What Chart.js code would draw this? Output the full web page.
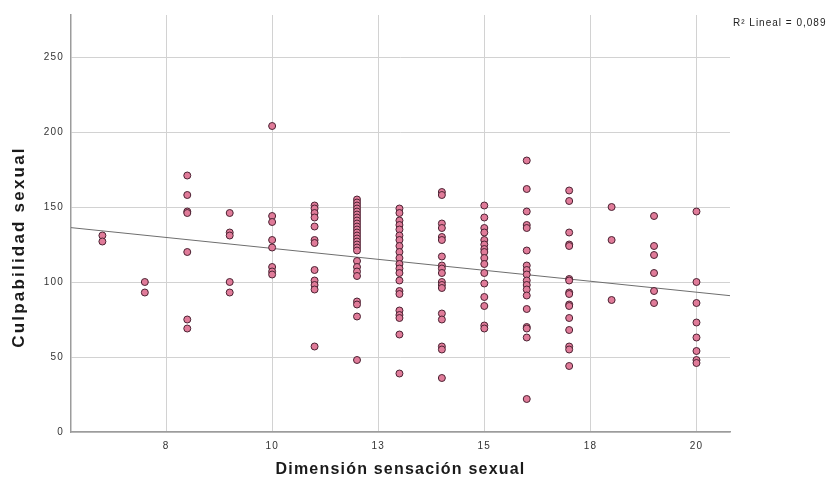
<!DOCTYPE html>
<html>
<head>
<meta charset="utf-8">
<script src="https://cdn.jsdelivr.net/npm/chart.js@4"></script>
<style>
  html, body { margin: 0; padding: 0; background: #fff; }
  canvas { display: block; }
</style>
</head>
<body>
<canvas id="grafico" width="830" height="483"></canvas>
<script>
// valores de x (dimensión sensación sexual) y los puntos de culpabilidad en cada uno
const sensacion = [6, 7, 8, 9, 10, 11, 12, 13, 14, 15, 16, 17, 18, 19, 20];
const culpabilidad = [
    [131, 127],
    [100, 93],
    [171, 158, 147, 146, 120, 75, 69],
    [146, 133, 131, 100, 93],
    [204, 144, 140, 128, 123, 110, 107, 105],
    [151, 149, 146, 143, 137, 128, 126, 108, 101, 98, 95, 57],
    [155, 153, 151, 149, 147, 145, 143, 141, 139, 137, 135, 133, 131, 129, 127, 125, 123, 121, 114, 110, 107, 104, 87, 85, 77, 48],
    [149, 146, 141, 138, 135, 131, 128, 124, 120, 116, 112, 109, 106, 101, 94, 92, 81, 78, 76, 65, 39],
    [160, 158, 139, 136, 130, 128, 117, 111, 109, 106, 100, 98, 96, 79, 75, 57, 55, 36],
    [151, 143, 136, 133, 128, 125, 122, 120, 116, 112, 106, 99, 90, 84, 71, 69],
    [181, 162, 147, 138, 136, 121, 111, 108, 105, 101, 98, 95, 91, 82, 70, 69, 63, 22],
    [161, 154, 133, 125, 124, 102, 101, 93, 92, 85, 84, 76, 68, 57, 55, 44],
    [150, 128, 88],
    [144, 124, 118, 106, 94, 86],
    [147, 100, 86, 73, 63, 54, 48, 46]
];

const xTicks = [7.5, 10, 12.5, 15, 17.5, 20];
const xTickLabels = ['8', '10', '13', '15', '18', '20'];
const yTicks = [0, 50, 100, 150, 200, 250];

const xMin = 5.26, xMax = 20.79;
const yMin = 0, yMax = 278;

const xTitle = 'Dimensión sensación sexual';
const yTitle = 'Culpabilidad sexual';
const r2Text = 'R² Lineal = 0,089';

const puntos = [];
sensacion.forEach((x, i) => {
    culpabilidad[i].forEach(y => puntos.push({ x: x, y: y }));
});

// recta de ajuste por minimos cuadrados
const n = puntos.length;
const mx = puntos.reduce((s, p) => s + p.x, 0) / n;
const my = puntos.reduce((s, p) => s + p.y, 0) / n;
let sxy = 0, sxx = 0;
puntos.forEach(p => {
    sxy += (p.x - mx) * (p.y - my);
    sxx += (p.x - mx) * (p.x - mx);
});
const pendiente = sxy / sxx;
const intercepto = my - pendiente * mx;
const recta = [xMin, xMax].map(x => ({ x: x, y: intercepto + pendiente * x }));

const fuente = '"Liberation Sans", Arial, sans-serif';

const textos = {
    id: 'textos',
    beforeDraw(chart) {
        chart.ctx.letterSpacing = '1.2px';
    },
    afterDraw(chart) {
        const c = chart.ctx;
        const a = chart.chartArea;
        c.save();
        c.fillStyle = '#1a1a1a';
        c.textAlign = 'center';
        c.textBaseline = 'middle';
        c.letterSpacing = '1.2px';
        c.font = 'bold 16px ' + fuente;
        c.fillText(xTitle, (a.left + a.right) / 2, 470);

        c.save();
        c.translate(19, 247);
        c.rotate(-Math.PI / 2);
        c.letterSpacing = '2.2px';
        c.font = 'bold 17px ' + fuente;
        c.fillText(yTitle, 0, 0);
        c.restore();

        c.letterSpacing = '1px';
        c.font = '10px ' + fuente;
        c.textAlign = 'left';
        c.fillStyle = '#222';
        c.fillText(r2Text, a.right + 3, 23);
        c.restore();
    }
};

new Chart(document.getElementById('grafico'), {
    type: 'scatter',
    data: {
        datasets: [
            {
                data: puntos,
                backgroundColor: '#e07b99',
                borderColor: '#4b2232',
                borderWidth: 1,
                pointRadius: 3.5,
                pointHoverRadius: 3.5
            },
            {
                type: 'line',
                data: recta,
                borderColor: '#6e6e6e',
                borderWidth: 1,
                pointRadius: 0,
                fill: false
            }
        ]
    },
    options: {
        responsive: false,
        animation: false,
        layout: {
            padding: { top: 15, right: 100, left: 0, bottom: 0 }
        },
        plugins: {
            legend: { display: false },
            tooltip: { enabled: false }
        },
        scales: {
            x: {
                type: 'linear',
                min: xMin,
                max: xMax,
                afterBuildTicks: scale => {
                    scale.ticks = xTicks.map(v => ({ value: v }));
                },
                afterFit: scale => { scale.height = 51; },
                ticks: {
                    autoSkip: false,
                    maxRotation: 0,
                    padding: 8,
                    color: '#333',
                    font: { family: fuente, size: 10 },
                    callback: (value) => xTickLabels[xTicks.indexOf(value)]
                },
                grid: {
                    color: '#d2d2d2',
                    lineWidth: 1,
                    drawTicks: false
                },
                border: { color: '#9c9c9c', width: 1.5 }
            },
            y: {
                min: yMin,
                max: yMax,
                afterBuildTicks: scale => {
                    scale.ticks = yTicks.map(v => ({ value: v }));
                },
                afterFit: scale => { scale.width = 71; },
                ticks: {
                    padding: 7,
                    color: '#333',
                    font: { family: fuente, size: 10 }
                },
                grid: {
                    color: '#d2d2d2',
                    lineWidth: 1,
                    drawTicks: false
                },
                border: { color: '#9c9c9c', width: 1.5 }
            }
        }
    },
    plugins: [textos]
});
</script>
</body>
</html>
